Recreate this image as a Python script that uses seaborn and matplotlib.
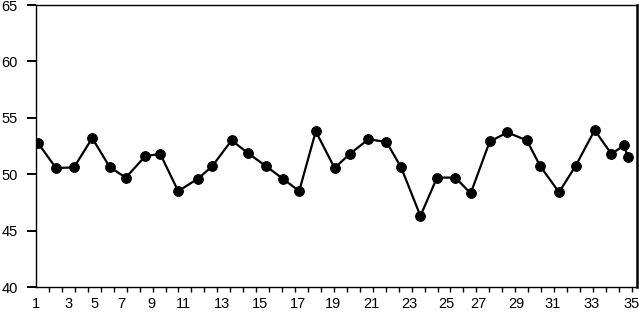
import matplotlib
matplotlib.use("Agg")
import matplotlib.pyplot as plt
import seaborn as sns
import numpy as np

# Data (x in axis tick units, y values)
x_pos = [0.13, 1.54, 2.93, 4.34, 5.71, 6.94, 8.43, 9.59, 10.98, 12.50,
         13.60, 15.10, 16.33, 17.77, 19.06, 20.32, 21.60, 23.05, 24.23, 25.67,
         27.06, 28.19, 29.68, 30.96, 32.38, 33.56, 35.03, 36.40, 37.89, 38.94,
         40.38, 41.67, 43.13, 44.42, 45.39, 45.70]
values = [52.8, 50.55, 50.6, 53.2, 50.6, 49.7, 51.6, 51.8, 48.5, 49.6,
          50.7, 53.0, 51.9, 50.7, 49.6, 48.5, 53.8, 50.55, 51.8, 53.1,
          52.85, 50.6, 46.3, 49.7, 49.7, 48.3, 52.9, 53.7, 53.0, 50.7,
          48.4, 50.75, 53.9, 51.8, 52.55, 51.5]
tick_labels = ["1", "3", "5", "7", "9", "11", "13", "15", "17", "19",
               "21", "23", "25", "27", "29", "31", "33", "35"]
tick_label_pos = [0, 2.53, 4.55, 6.61, 8.88, 11.37, 14.33, 17.28, 20.24, 22.94,
                  25.90, 28.86, 31.69, 34.13, 37.09, 39.92, 42.88, 45.97]
y_ticks = [40, 45, 50, 55, 60, 65]

sns.set_style("ticks")
plt.rcParams["font.family"] = ["Liberation Sans", "DejaVu Sans"]

fig = plt.figure(figsize=(6.39, 3.13), dpi=100)
ax = fig.add_axes([36/639, 1 - 287/313, (637 - 36)/639, (287 - 5)/313])

sns.lineplot(x=x_pos, y=values, ax=ax, sort=False, color="black",
             linewidth=1.6, marker="o", markersize=7,
             markeredgecolor="black", markerfacecolor="black")

ax.set_xlim(0, 46.4)
ax.set_ylim(40, 65)
ax.set_yticks(y_ticks)
ax.set_yticklabels([str(v) for v in y_ticks], fontsize=10.5)
ax.tick_params(axis="y", direction="out", length=6.5, width=1.4, pad=6.5,
               colors="black")

ax.set_xticks(tick_label_pos)
ax.set_xticklabels(tick_labels, fontsize=10.5)
ax.set_xticks(np.arange(0, 47), minor=True)
ax.tick_params(axis="x", which="major", length=0, pad=7, colors="black")
ax.tick_params(axis="x", which="minor", direction="out", length=3.8, width=1,
               colors="black")

for side in ["left", "bottom", "top", "right"]:
    ax.spines[side].set_visible(True)
    ax.spines[side].set_color("black")
    ax.spines[side].set_linewidth(1.0)
ax.spines["right"].set_linewidth(1.8)

ax.set_xlabel("")
ax.set_ylabel("")

fig.savefig("out.png", dpi=100)
